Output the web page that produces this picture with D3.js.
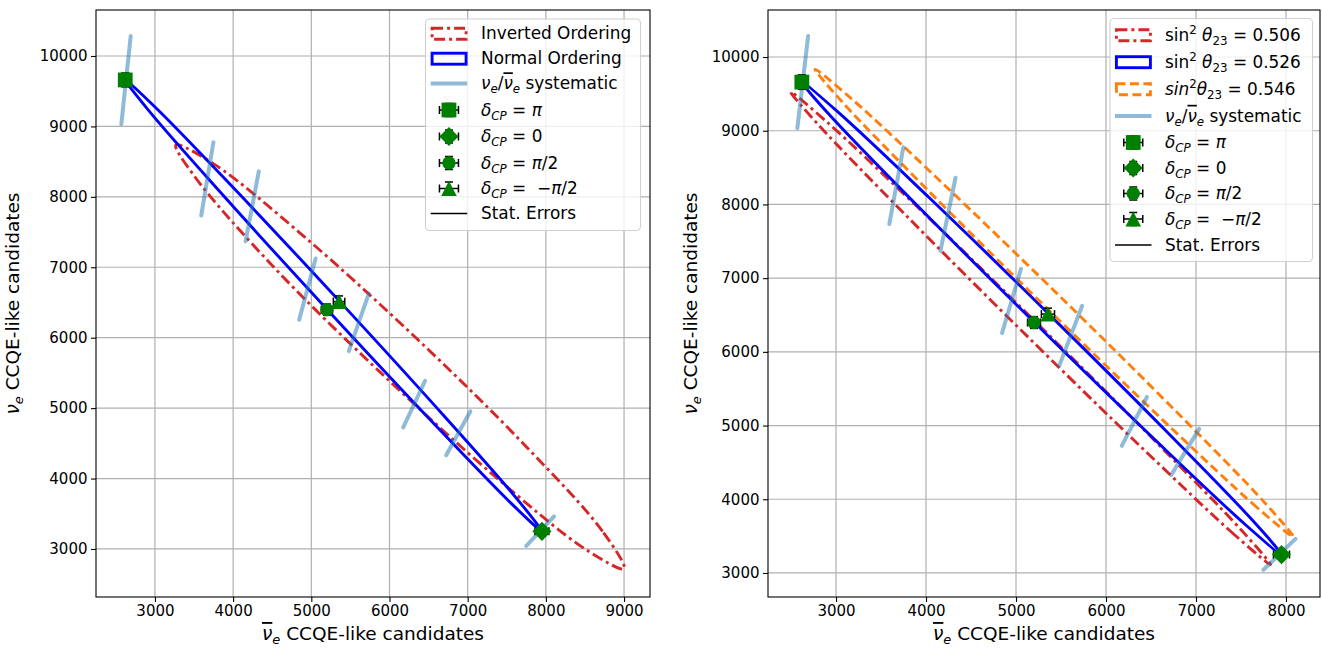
<!DOCTYPE html>
<html>
<head>
<meta charset="utf-8">
<script src="https://cdn.jsdelivr.net/npm/d3@7"></script>
<style>
  body { margin: 0; background: #fff; }
  svg { display: block; font-family: "DejaVu Sans", sans-serif; }
  text { white-space: pre; }
</style>
</head>
<body>
<svg id="chart" width="1322" height="648"></svg>
<script>
// ---- values ----
// delta_CP points (nuebar, nue) with stat. errors
const deltaShapes = ["square", "diamond", "circle", "triangle"];
const deltaValues = [[{t: "π", it: true}], [{t: "0"}], [{t: "π", it: true}, {t: "/2"}], [{t: "\u2212"}, {t: "π", it: true}, {t: "/2"}]];
const pointNuebar = [2620, 7950, 5200, 5355];
const pointNue = [9660, 3250, 6398, 6512];
const statErrNuebar = [51, 89, 72, 73];
const statErrNue = [98, 57, 80, 81];

// nue/nuebar systematic segments
const systFrom = [[2570, 9033], [3592, 7734], [4160, 7370], [4845, 6255], [5480, 5810], [6175, 4725], [6725, 4330], [7750, 3043]];
const systTo = [[2690, 10285], [3748, 8775], [4328, 8362], [5055, 7125], [5735, 6625], [6455, 5388], [7035, 4955], [8105, 3462]];

// contours (nuebar, nue), closed
const invertedOrdering = [[9000, 2720], [8725, 3251], [7755, 4446], [6351, 5984], [4889, 7454], [3761, 8461],
  [3268, 8736], [3500, 8300], [4513, 7010], [5917, 5472], [7379, 4002], [8508, 2995]];
const normalOrdering = [[7950, 3250], [7553, 3651], [6548, 4803], [5205, 6398], [3883, 8008], [2937, 9202],
  [2620, 9660], [3017, 9259], [4022, 8107], [5365, 6512], [6687, 4902], [7633, 3708]];
const sin2th23_0506 = [[7828, 3114], [7431, 3515], [6426, 4667], [5083, 6262], [3761, 7872], [2815, 9066],
  [2498, 9524], [2895, 9123], [3900, 7971], [5243, 6376], [6565, 4766], [7511, 3572]];
const sin2th23_0546 = [[8081, 3491], [7681, 3885], [6676, 5023], [5336, 6600], [4019, 8194], [3079, 9377],
  [2767, 9833], [3167, 9439], [4172, 8301], [5512, 6724], [6829, 5130], [7769, 3947]];

// axes
const xTicksLeft = [3000, 4000, 5000, 6000, 7000, 8000, 9000];
const xTicksRight = [3000, 4000, 5000, 6000, 7000, 8000];
const yTicks = [3000, 4000, 5000, 6000, 7000, 8000, 9000, 10000];
const xLimLeft = [2246, 9332], yLimLeft = [2318, 10653];
const xLimRight = [2244, 8378], yLimRight = [2674, 10638];

const RED = "#d62728", BLUE = "#0000ff", ORANGE = "#ff7f0e", GREEN = "#008000";
const SYST = "rgba(31,119,180,0.5)";
const DASHDOT = "11,4,3,4", DASHED = "9,4.5";

const svg = d3.select("#chart");

function rich(g, x, y, parts, size, anchor) {
  const t = g.append("text").attr("x", x).attr("y", y)
    .attr("font-size", size).attr("text-anchor", anchor || "start").attr("fill", "#000");
  let prev = 0;
  parts.forEach(p => {
    const off = p.sub ? 0.24 * size : p.sup ? -0.42 * size : 0;
    const ts = t.append("tspan").text(p.t).attr("dy", off - prev);
    if (p.sub || p.sup) ts.attr("font-size", size * 0.7);
    if (p.it) ts.attr("font-style", "italic");
    if (p.over) ts.style("text-decoration", "overline");
    prev = off;
  });
  return t;
}

function drawMarker(g, shape, cx, cy) {
  if (shape === "square") {
    g.append("rect").attr("x", cx - 7.4).attr("y", cy - 7.4).attr("width", 14.8).attr("height", 14.8).attr("fill", GREEN);
  } else if (shape === "diamond") {
    g.append("path").attr("d", `M${cx},${cy - 9.6}L${cx + 9.6},${cy}L${cx},${cy + 9.6}L${cx - 9.6},${cy}Z`).attr("fill", GREEN);
  } else if (shape === "circle") {
    g.append("circle").attr("cx", cx).attr("cy", cy).attr("r", 6.7).attr("fill", GREEN);
  } else {
    g.append("path").attr("d", `M${cx},${cy - 7.4}L${cx + 7.8},${cy + 7.4}L${cx - 7.8},${cy + 7.4}Z`).attr("fill", GREEN);
  }
}

function drawErrorbar(g, cx, cy, dx, dy) {
  const cap = 4;
  const e = g.append("g").attr("stroke", "#000").attr("stroke-width", 1.5);
  e.append("line").attr("x1", cx - dx).attr("x2", cx + dx).attr("y1", cy).attr("y2", cy);
  e.append("line").attr("x1", cx).attr("x2", cx).attr("y1", cy - dy).attr("y2", cy + dy);
  [-1, 1].forEach(s => {
    e.append("line").attr("x1", cx + s * dx).attr("x2", cx + s * dx).attr("y1", cy - cap).attr("y2", cy + cap);
    e.append("line").attr("x1", cx - cap).attr("x2", cx + cap).attr("y1", cy + s * dy).attr("y2", cy + s * dy);
  });
}

const deltaLabel = v => [{t: "δ", it: true}, {t: "CP", it: true, sub: true}, {t: v[0].t === "\u2212" ? " =  " : " = "}, ...v];
const systLabel = [{t: "ν", it: true}, {t: "e", it: true, sub: true}, {t: "/"}, {t: "ν", it: true, over: true}, {t: "e", it: true, sub: true}, {t: " systematic"}];

function drawPanel(p) {
  const x = d3.scaleLinear().domain(p.xLim).range([p.left, p.right]);
  const y = d3.scaleLinear().domain(p.yLim).range([p.bottom, p.top]);
  const g = svg.append("g");

  // grid
  g.append("g").selectAll("line").data(p.xTicks).join("line")
    .attr("x1", d => x(d)).attr("x2", d => x(d)).attr("y1", p.top).attr("y2", p.bottom)
    .attr("stroke", "#b0b0b0").attr("stroke-width", 1.2);
  g.append("g").selectAll("line").data(yTicks).join("line")
    .attr("x1", p.left).attr("x2", p.right).attr("y1", d => y(d)).attr("y2", d => y(d))
    .attr("stroke", "#b0b0b0").attr("stroke-width", 1.2);

  // contours
  const contour = d3.line().x(d => x(d[0])).y(d => y(d[1])).curve(d3.curveCatmullRomClosed.alpha(0.5));
  p.contours.forEach(c => {
    g.append("path").attr("d", contour(c.pts)).attr("fill", "none")
      .attr("stroke", c.color).attr("stroke-width", 2.9).attr("stroke-dasharray", c.dash || null);
  });

  // systematic segments
  g.append("g").selectAll("line").data(systFrom).join("line")
    .attr("x1", d => x(d[0])).attr("y1", d => y(d[1]))
    .attr("x2", (d, i) => x(systTo[i][0])).attr("y2", (d, i) => y(systTo[i][1]))
    .attr("stroke", SYST).attr("stroke-width", 4).attr("stroke-linecap", "round");

  // points with stat errors
  pointNuebar.forEach((v, i) => {
    const cx = x(v), cy = y(pointNue[i]);
    drawErrorbar(g, cx, cy, x(v + statErrNuebar[i]) - cx, cy - y(pointNue[i] + statErrNue[i]));
    drawMarker(g, deltaShapes[i], cx, cy);
  });

  // axes
  const ax = g.append("g").attr("transform", `translate(0,${p.bottom})`)
    .call(d3.axisBottom(x).tickValues(p.xTicks).tickSize(5).tickPadding(3.5).tickFormat(d3.format("d")));
  const ay = g.append("g").attr("transform", `translate(${p.left},0)`)
    .call(d3.axisLeft(y).tickValues(yTicks).tickSize(5).tickPadding(3.5).tickFormat(d3.format("d")));
  [ax, ay].forEach(a => {
    a.select(".domain").remove();
    a.selectAll("line").attr("stroke", "#000").attr("stroke-width", 1.1);
    a.selectAll("text").attr("font-size", 15).attr("fill", "#000").attr("font-family", "DejaVu Sans");
  });
  g.append("rect").attr("x", p.left).attr("y", p.top).attr("width", p.right - p.left).attr("height", p.bottom - p.top)
    .attr("fill", "none").attr("stroke", "#000").attr("stroke-width", 1.1);

  rich(g, (p.left + p.right) / 2, 640, [{t: "ν", it: true, over: true}, {t: "e", it: true, sub: true}, {t: " CCQE-like candidates"}], 18.5, "middle");
  const yl = rich(g, 0, 0, [{t: "ν", it: true}, {t: "e", it: true, sub: true}, {t: " CCQE-like candidates"}], 18.5, "middle");
  yl.attr("transform", `translate(${p.ylabelX},${(p.top + p.bottom) / 2}) rotate(-90)`);

  // legend
  const L = p.legend;
  g.append("rect").attr("x", L.x0).attr("y", L.y0).attr("width", L.x1 - L.x0).attr("height", L.y1 - L.y0)
    .attr("rx", 4).attr("fill", "rgba(255,255,255,0.8)").attr("stroke", "#d0d0d0").attr("stroke-width", 1.1);
  const hx0 = L.hx0, hx1 = L.hx0 + 36.5, hc = (hx0 + hx1) / 2;
  L.rows.forEach((r, i) => {
    const ry = L.rowY[i];
    if (r.kind === "patch") {
      g.append("rect").attr("x", hx0 + 1.4).attr("y", ry - 5.3).attr("width", 34).attr("height", 11)
        .attr("fill", "none").attr("stroke", r.color).attr("stroke-width", 2.9).attr("stroke-dasharray", r.dash || null);
    } else if (r.kind === "syst") {
      g.append("line").attr("x1", hx0).attr("x2", hx1).attr("y1", ry).attr("y2", ry).attr("stroke", SYST).attr("stroke-width", 4);
    } else if (r.kind === "stat") {
      g.append("line").attr("x1", hx0).attr("x2", hx1).attr("y1", ry).attr("y2", ry).attr("stroke", "#000").attr("stroke-width", 1.5);
    } else {
      drawErrorbar(g, hc, ry, 9.5, 6.5);
      drawMarker(g, r.shape, hc, ry);
    }
    rich(g, L.tx, ry + 5.8, r.label, 16.9);
  });
}

const markerRows = deltaShapes.map((s, i) => ({kind: "marker", shape: s, label: deltaLabel(deltaValues[i])}));

drawPanel({
  left: 96, right: 650, top: 10, bottom: 597, ylabelX: 19,
  xLim: xLimLeft, yLim: yLimLeft, xTicks: xTicksLeft,
  contours: [
    {pts: invertedOrdering, color: RED, dash: DASHDOT},
    {pts: normalOrdering, color: BLUE}
  ],
  legend: {
    x0: 425.5, x1: 640.5, y0: 19, y1: 230.5, hx0: 430.7, tx: 481,
    rowY: [33.5, 58.5, 83.5, 110, 136.5, 163, 188.5, 213.5],
    rows: [
      {kind: "patch", color: RED, dash: DASHDOT, label: [{t: "Inverted Ordering"}]},
      {kind: "patch", color: BLUE, label: [{t: "Normal Ordering"}]},
      {kind: "syst", label: systLabel},
      ...markerRows,
      {kind: "stat", label: [{t: "Stat. Errors"}]}
    ]
  }
});

const th = (v, itSin) => itSin
  ? [{t: "sin", it: true}, {t: "2", sup: true}, {t: "θ", it: true}, {t: "23", sub: true}, {t: " = " + v}]
  : [{t: "sin"}, {t: "2", sup: true}, {t: " "}, {t: "θ", it: true}, {t: "23", sub: true}, {t: " = " + v}];

drawPanel({
  left: 768, right: 1320, top: 10, bottom: 597, ylabelX: 697,
  xLim: xLimRight, yLim: yLimRight, xTicks: xTicksRight,
  contours: [
    {pts: sin2th23_0506, color: RED, dash: DASHDOT},
    {pts: normalOrdering, color: BLUE},
    {pts: sin2th23_0546, color: ORANGE, dash: DASHED}
  ],
  legend: {
    x0: 1110, x1: 1312.5, y0: 18.5, y1: 261.5, hx0: 1115, tx: 1165,
    rowY: [35, 62, 89, 116, 142.5, 168, 193.5, 219, 245],
    rows: [
      {kind: "patch", color: RED, dash: DASHDOT, label: th("0.506", false)},
      {kind: "patch", color: BLUE, label: th("0.526", false)},
      {kind: "patch", color: ORANGE, dash: DASHED, label: th("0.546", true)},
      {kind: "syst", label: systLabel},
      ...markerRows,
      {kind: "stat", label: [{t: "Stat. Errors"}]}
    ]
  }
});
</script>
</body>
</html>
